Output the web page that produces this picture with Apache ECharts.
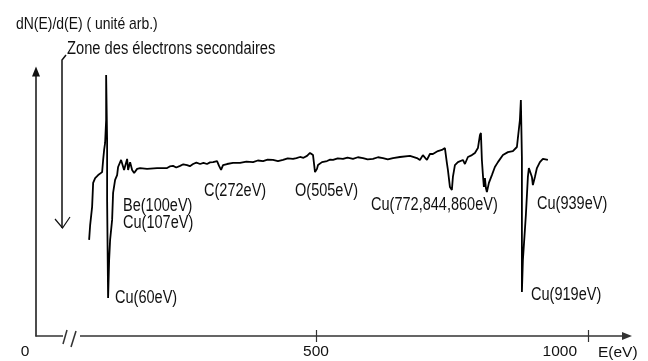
<!DOCTYPE html>
<html><head><meta charset="utf-8">
<script src="https://cdn.jsdelivr.net/npm/echarts@6/dist/echarts.min.js"></script>
<style>html,body{margin:0;padding:0;background:#fff}#c{width:648px;height:361px}</style>
</head><body><div id="c"></div>
<script>
// Spectrum (x in axis eV units, y in arbitrary units)
const energy = [82.7, 84.6, 88.2, 90.1, 93.8, 99.3, 102.9, 106.6, 108.5, 110.3, 112.1, 114.0, 114.0, 115.8, 115.8, 117.6, 119.5, 121.3, 125.0, 126.8, 130.5, 134.2, 136.0,
  141.5, 147.0, 152.6, 154.4, 158.1, 161.8, 165.5, 171.0, 176.5, 189.3, 207.7,
  226.1, 231, 237.1, 243, 250.0, 256, 262.8, 268, 273.9, 280, 286.8, 293, 299.6, 305, 310.7, 318.0, 321.7, 325.4, 329.0, 336.4, 347.4, 360.3, 372, 384.2, 393, 402.6, 411, 420.9, 430, 439.3, 448, 457.7, 464, 470.6, 477, 483.5, 489.0, 492.6, 494.5, 498.2, 501.8, 503.7, 511.0,
  520.2, 526, 531.3, 540, 549.6, 558, 568.0, 577, 586.4, 595, 604.8, 614, 623.2, 632, 641.5, 654.4, 672.8, 685.6, 691.1, 696.6, 704.0, 709.5, 715.0, 724.2, 731.5, 737.1,
  740.7, 742.6, 746.3, 749.9, 751.8, 755.5, 761.0, 770.2, 773.9, 779.4, 786.8, 792.3, 797.8, 801.5, 803.3, 805.1, 807.0, 808.8, 810.7, 812.5, 814.3, 818.0, 823.5, 829.0, 834.6, 843.8, 853.0, 862.1, 869.5, 871.3, 875.0, 876.8,
  878.7, 878.7, 880.5, 884.2, 886.0, 889.7, 891.5, 897.1, 898.9, 902.6, 906.3, 911.8, 917.3, 926.5];
const signal = [35.6, 41.1, 47.8, 56.7, 58.5, 59.6, 60.0, 60.7, 65.2, 68.9, 71.5, 80.0, 96.7, 72.6, 50.4, 14.1, 28.1, 35.6, 43.0, 53.0, 57.8, 59.6, 62.6,
  65.2, 61.5, 65.6, 61.5, 64.4, 61.5, 60.4, 61.9, 62.2, 61.9, 62.2,
  62.2, 62.8, 63.0, 62.4, 63.0, 63.6, 63.3, 62.9, 63.7, 64.2, 63.7, 64.1, 63.7, 64.3, 64.4, 64.8, 63.0, 61.5, 63.3, 63.7, 64.1, 64.1, 64.6, 64.4, 65.0, 64.8, 65.3, 65.2, 64.8, 65.2, 65.8, 65.6, 65.9, 66.3, 66.0, 66.7, 67.8, 68.1, 67.0, 60.7, 61.9, 63.3, 64.4,
  64.8, 65.3, 65.2, 65.8, 65.6, 66.1, 65.6, 66.2, 65.9, 65.4, 65.6, 66.2, 65.9, 65.4, 65.9, 66.3, 66.7, 65.9, 65.2, 67.0, 65.2, 67.4, 67.4, 68.5, 68.9, 69.6,
  64.1, 61.5, 55.2, 54.1, 58.9, 63.3, 64.4, 65.2, 63.7, 66.3, 67.0, 67.8, 69.6, 74.4, 75.2, 65.2, 59.6, 55.2, 58.5, 54.8, 53.3, 56.7, 59.6, 62.6, 64.4, 67.0, 68.1, 68.5, 70.0, 73.3, 80.0, 87.4,
  65.9, 16.3, 28.1, 39.3, 44.8, 58.9, 62.2, 58.9, 55.9, 58.9, 62.2, 64.4, 65.6, 65.2];
const tickValues = [500, 1000];
const tickLabels = [0, 500, 1000];
const yTitle = 'dN(E)/d(E) ( unité arb.)';
const xTitle = 'E(eV)';
const zoneText = 'Zone des électrons secondaires';
const peakLabels = ['Be(100eV)', 'Cu(107eV)', 'C(272eV)', 'O(505eV)', 'Cu(772,844,860eV)', 'Cu(939eV)', 'Cu(60eV)', 'Cu(919eV)'];

const FONT = '"Liberation Sans", Arial, sans-serif';
const FS = 17.5;
const SX = 0.83;
const AFS = 15.5;
const points = energy.map((e, i) => [e, signal[i]]);
const labelPos = [[123, 206], [123, 223], [204, 191], [295, 191], [371, 205], [537, 204], [115, 298], [531, 295]];

const graphics = [
  {type: 'text', x: 16, y: 24, z: 100, scaleX: 0.82, style: {text: yTitle, fill: '#111', font: '17px ' + FONT, verticalAlign: 'middle', align: 'left'}},
  {type: 'text', x: 67, y: 49, z: 100, scaleX: 0.84, style: {text: zoneText, fill: '#111', font: FS + 'px ' + FONT, verticalAlign: 'middle', align: 'left'}},
  {type: 'polyline', z: 100, shape: {points: [[66, 55], [62, 60], [62, 228]]}, style: {stroke: '#111', lineWidth: 1.5, fill: null}},
  {type: 'polyline', z: 100, shape: {points: [[55, 219], [62.5, 228], [70, 217]]}, style: {stroke: '#111', lineWidth: 1.2, fill: null}},
  {type: 'rect', z: 100, shape: {x: 63, y: 332, width: 17, height: 8}, style: {fill: '#fff'}},
  {type: 'line', z: 101, shape: {x1: 63, y1: 344, x2: 67, y2: 330}, style: {stroke: '#333', lineWidth: 1.5}},
  {type: 'line', z: 101, shape: {x1: 71, y1: 347, x2: 76, y2: 331}, style: {stroke: '#333', lineWidth: 1.5}}
];
peakLabels.forEach((t, i) => {
  graphics.push({type: 'text', x: labelPos[i][0], y: labelPos[i][1], z: 100, scaleX: SX,
    style: {text: t, fill: '#111', font: FS + 'px ' + FONT, verticalAlign: 'middle', align: 'left'}});
});

const chart = echarts.init(document.getElementById('c'), null, {renderer: 'canvas'});
chart.setOption({
  animation: false,
  backgroundColor: '#fff',
  grid: {left: 36, right: 21, top: 71.4, bottom: 25, containLabel: false},
  xAxis: [{
    type: 'value', min: -15, max: 1072,
    splitLine: {show: false},
    axisLine: {show: true, onZero: false, symbol: ['none', 'triangle'], symbolSize: [8, 10], lineStyle: {color: '#333', width: 1.5}},
    axisTick: {show: true, inside: false, length: 6, customValues: tickValues, lineStyle: {color: '#333', width: 1.2}},
    axisLabel: {
      show: true, customValues: tickLabels, margin: 8, color: '#111', fontFamily: FONT, fontSize: AFS,
      formatter: function (v) { return v === 0 ? '{a|0}' : (v === 1000 ? '{b|1000}' : '{c|' + v + '}'); },
      rich: {
        a: {padding: [0, 38, 0, 0], fontFamily: FONT, fontSize: AFS, color: '#111'},
        b: {padding: [0, 56, 0, 0], fontFamily: FONT, fontSize: AFS, color: '#111'},
        c: {fontFamily: FONT, fontSize: AFS, color: '#111'}
      }
    },
    name: xTitle, nameLocation: 'end', nameGap: -29,
    nameTextStyle: {color: '#111', fontFamily: FONT, fontSize: AFS, align: 'left', verticalAlign: 'top', padding: [9, 0, 0, 0]}
  }, {
    type: 'value', min: -15, max: 1072, position: 'bottom',
    splitLine: {show: false},
    axisLine: {show: false},
    axisTick: {show: true, inside: true, length: 6, customValues: tickValues, lineStyle: {color: '#333', width: 1.2}},
    axisLabel: {show: false}
  }],
  yAxis: {
    type: 'value', min: 0, max: 98,
    splitLine: {show: false},
    axisTick: {show: false},
    axisLabel: {show: false},
    axisLine: {show: true, onZero: false, symbol: ['none', 'triangle'], symbolSize: [8, 10], lineStyle: {color: '#111', width: 1.5}}
  },
  series: [{
    type: 'line', xAxisIndex: 0, data: points, showSymbol: false, symbol: 'none',
    lineStyle: {color: '#000', width: 1.8}, z: 5
  }],
  graphic: graphics
});
</script>
</body></html>
